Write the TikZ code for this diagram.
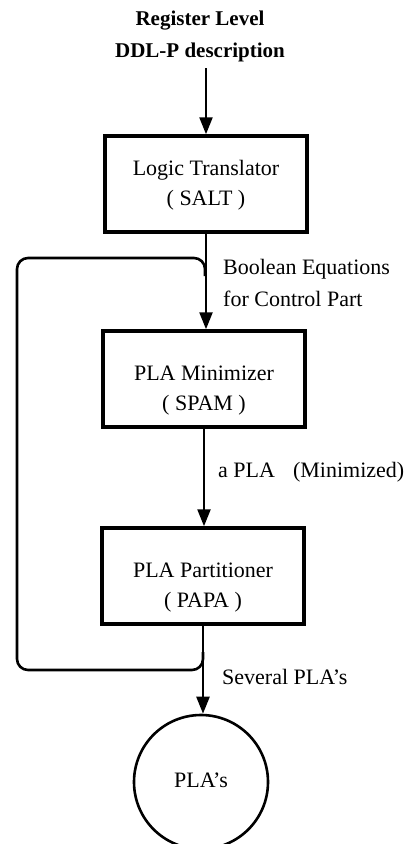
\documentclass[tikz,border=0pt]{standalone}
\usepackage{fontspec}
\setmainfont{Liberation Serif}
\usetikzlibrary{arrows.meta}
\tikzset{
  txt/.style={font=\fontsize{22}{30}\selectfont, inner sep=0pt},
  lbl/.style={font=\fontsize{22}{32}\selectfont, inner sep=0pt, align=left, anchor=west},
  stepbox/.style={draw, line width=3.5pt, minimum width=202pt, minimum height=96pt, inner sep=0pt},
  endcirc/.style={draw, circle, line width=2.6pt, minimum size=134pt, inner sep=0pt},
  flow/.style={line width=2.4pt, -{Triangle[length=17pt,width=13pt]}},
  fb/.style={line width=2.6pt, rounded corners=11pt}
}
\begin{document}
\begin{tikzpicture}[x=1pt,y=1pt]
\useasboundingbox (0,0) rectangle (408,-844);
\node[txt, align=center, font=\fontsize{21}{32}\selectfont\bfseries] (title) at (200,-36) {Register Level\\DDL-P description};
\node[stepbox] (salt) at (206,-184) {};
\node[txt, align=center] (saltt) at (206,-185) {Logic Translator\\( SALT )};
\node[stepbox] (spam) at (204,-379) {};
\node[txt, align=center] (spamt) at (204,-391) {PLA Minimizer\\( SPAM )};
\node[stepbox] (papa) at (203,-576) {};
\node[txt, align=center] (papat) at (203,-588) {PLA Partitioner\\( PAPA )};
\node[endcirc] (plas) at (201,-782) {};
\node[txt] (plast) at (201,-780) {PLA's};
\coordinate (start) at (206,-68);
\draw[flow] (start) -- (salt.north);
\draw[flow] (salt.south) -- (salt.south |- spam.north);
\draw[flow] (spam.south) -- (spam.south |- papa.north);
\draw[flow] (papa.south) -- (papa.south |- plas.north);
\coordinate (jt) at (205,-276);
\coordinate (jb) at (203,-652);
\draw[fb] (jb) -- (203,-670) -- (17,-670) -- (17,-258) -- (205,-258) -- (jt);
\node[lbl] (bool) at (223,-283) {Boolean Equations\\for Control Part};
\node[lbl] (apla) at (218,-472) {a PLA\hspace{18pt}(Minimized)};
\node[lbl] (sev) at (222,-677) {Several PLA's};
\end{tikzpicture}
\end{document}
